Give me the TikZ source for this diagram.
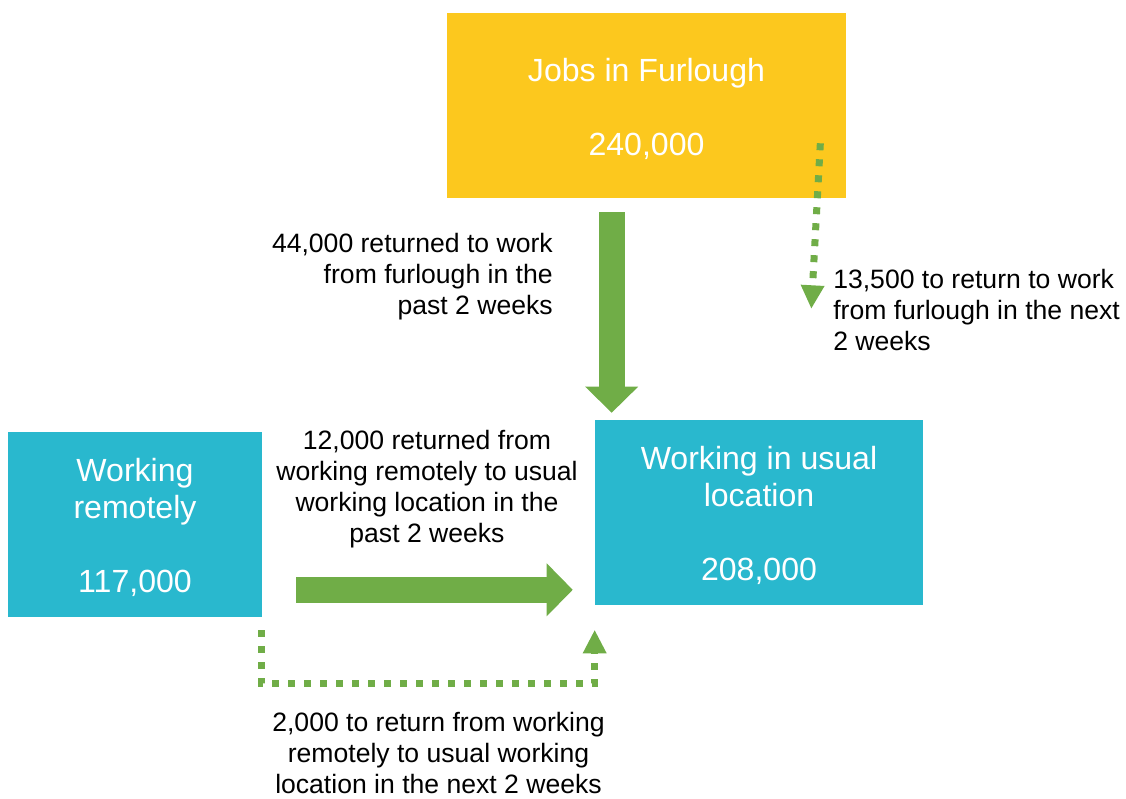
\documentclass[tikz,border=0pt]{standalone}
\usepackage{fontspec}
\setmainfont{Liberation Sans}
\usetikzlibrary{arrows.meta,calc}
\definecolor{furloughyellow}{HTML}{FCC81E}
\definecolor{boxteal}{HTML}{29B8CE}
\definecolor{flowgreen}{HTML}{70AD47}
\newcommand{\toppad}{\rule{0pt}{0.73cm}}

\begin{document}
\begin{tikzpicture}[x=0.025cm,y=-0.025cm,
    box/.style={fill=#1,text=white,inner sep=0pt,align=center,font=\fontsize{22.8}{26.3}\selectfont},
    note/.style={font=\fontsize{18.9}{22}\selectfont,inner sep=0pt},
    bigarrow/.style={flowgreen,line width=0.65cm,-{Triangle[length=0.65cm,width=1.325cm,line width=0pt]}},
    dotarrow/.style={flowgreen,line width=0.175cm,dash pattern=on 0.175cm off 0.225cm,-{Triangle[length=0.575cm,width=0.6cm,line width=0pt]}}]
  \useasboundingbox (0,0) rectangle (1126,799);

  \node[box=furloughyellow,minimum width=9.975cm,minimum height=4.625cm] (furlough) at (646.5,105.5) {\toppad Jobs in Furlough\\[0.925cm]240,000};
  \node[box=boxteal,minimum width=6.35cm,minimum height=4.625cm] (remote) at (135,524.5) {\toppad Working\\remotely\\[0.925cm]117,000};
  \node[box=boxteal,minimum width=8.2cm,minimum height=4.625cm] (usual) at (759,512.5) {\toppad Working in usual\\location\\[0.925cm]208,000};

  \node[note,anchor=east,align=right] (pastfurl) at (553,276.5) {44,000 returned to work\\from furlough in the\\past 2 weeks};
  \node[note,anchor=west,align=left] (nextfurl) at (833,310) {13,500 to return to work\\from furlough in the next\\2 weeks};
  \node[note,align=center] (pastremote) at (427,489) {12,000 returned from\\working remotely to usual\\working location in the\\past 2 weeks};
  \node[note,align=center] (nextremote) at (438.5,753) {2,000 to return from working\\remotely to usual working\\location in the next 2 weeks};

  % flows
  \draw[bigarrow] ($(usual.north west |- furlough.south)+(17,14)$) -- ($(usual.north west)+(17,-7)$);
  \coordinate (rstart) at ($(remote.south east)+(34,-27.5)$);
  \draw[bigarrow] (rstart) -- ($(usual.west |- rstart)+(-22,0)$);
  \draw[dotarrow] ($(furlough.south east)+(-26,-55)$) -- ($(furlough.south east)+(-35,110)$);
  \draw[dotarrow] ($(remote.south east)+(-1,13)$) -- ++(0,53) -| ($(usual.south west)+(0,25)$);
\end{tikzpicture}
\end{document}
